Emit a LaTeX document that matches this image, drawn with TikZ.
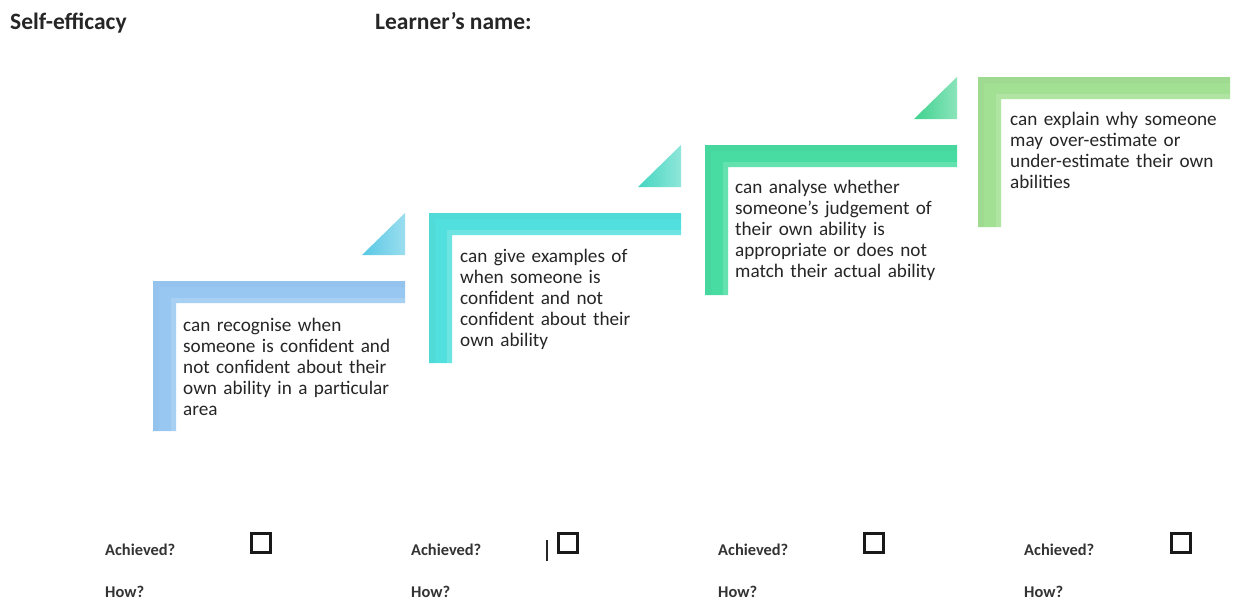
\documentclass[tikz,border=0pt]{standalone}
\usepackage{fontspec}
\setmainfont{Carlito}
\begin{document}
\begin{tikzpicture}[x=1pt,y=-1pt,
  steptext/.style={anchor=base west,inner sep=0pt,text width=270pt,align=left,
    font=\fontsize{19.2}{21}\selectfont,text=black!85},
  heading/.style={anchor=base west,inner sep=0pt,font=\fontsize{23.5}{26}\selectfont\bfseries,text=black!85},
  smalllabel/.style={anchor=base west,inner sep=0pt,font=\fontsize{16.4}{18}\selectfont\bfseries,text=black!80},
  checkbox/.style={draw=black!90,line width=3.2pt,minimum size=19pt,inner sep=0pt}]
\useasboundingbox (0,0) rectangle (1235,603);
\fill[white] (0,0) rectangle (1235,603);

\definecolor{barA}{RGB}{152,200,242}
\definecolor{barB}{RGB}{82,224,222}
\definecolor{barC}{RGB}{72,220,162}
\definecolor{barD}{RGB}{162,224,148}
\definecolor{triA}{RGB}{88,200,228}
\definecolor{triB}{RGB}{68,214,192}
\definecolor{triC}{RGB}{62,210,142}

% one L-shaped step: #1,#2 = top-left corner, #3 = colour
\newcommand{\stepL}[3]{%
  \fill[#3] (#1,#2) -- ++(252,0) -- ++(0,22) -- ++(-229,0) -- ++(0,128) -- ++(-23,0) -- cycle;
  \fill[#3!80!black,opacity=0.1] (#1,#2) -- ++(252,0) -- ++(0,6) -- ++(-246,0) -- ++(0,144) -- ++(-6,0) -- cycle;
  \fill[white,opacity=0.15] (#1+23,#2+22) -- ++(229,0) -- ++(0,-5) -- ++(-234,0) -- ++(0,133) -- ++(5,0) -- cycle;
}
% small connecting triangle: #1,#2 = right-angle corner, #3,#4 = colours
\newcommand{\steptri}[4]{%
  \shade[left color=#3,right color=#4] (#1,#2) -- ++(-43,0) -- ++(43,-42) -- cycle;
}

\stepL{153}{281}{barA}
\stepL{429}{213}{barB}
\stepL{705}{145}{barC}
\stepL{978}{77}{barD}
\steptri{405}{255}{triA}{triA!60!white}
\steptri{681}{187}{triB}{triB!60!white}
\steptri{957}{119}{triC}{triC!60!white}

\node[heading] (title) at (10,29) {Self-efficacy};
\node[heading] (learner) at (375,29) {Learner’s name:};

\node[steptext] (s1) at (183,331) {can recognise when\\ someone is confident and\\ not confident about their\\ own ability in a particular\\ area};
\node[steptext] (s2) at (460,262) {can give examples of\\ when someone is\\ confident and not\\ confident about their\\ own ability};
\node[steptext] (s3) at (735,193) {can analyse whether\\ someone’s judgement of\\ their own ability is\\ appropriate or does not\\ match their actual ability};
\node[steptext] (s4) at (1010,125) {can explain why someone\\ may over-estimate or\\ under-estimate their own\\ abilities};

\foreach \i/\lx/\bx in {1/105/261,2/411/568,3/718/874,4/1024/1181}{
  \node[smalllabel] (ach\i) at (\lx,555) {Achieved?};
  \node[smalllabel] (how\i) at (\lx,597) {How?};
  \node[checkbox] (box\i) at (\bx,543) {};
}
\draw[line width=1.5pt,black!85] (547,540) -- (547,561);
\end{tikzpicture}
\end{document}
